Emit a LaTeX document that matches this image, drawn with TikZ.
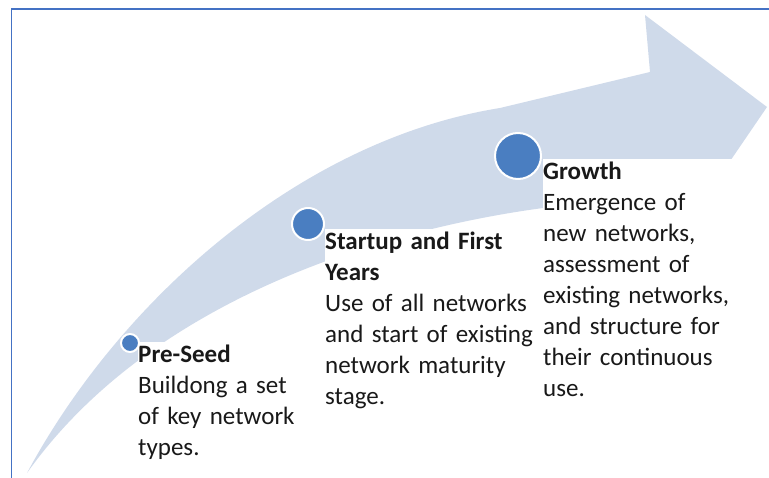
\documentclass[tikz,border=0pt]{standalone}
\usepackage{fontspec}
\setmainfont{Carlito}
\hyphenpenalty=10000
\definecolor{framecol}{RGB}{68,114,196}
\definecolor{arrowcol}{RGB}{207,218,234}
\definecolor{dotcol}{RGB}{74,126,193}
\definecolor{txtcol}{RGB}{25,25,25}
\begin{document}
\begin{tikzpicture}[x=1pt, y=-1pt,
  dot/.style={circle, fill=dotcol, draw=white, line width=2pt, inner sep=0pt},
  stage/.style={anchor=base west, align=left, fill=white, inner xsep=0pt, inner ysep=3pt,
    text=txtcol, font=\fontsize{25}{31}\selectfont}]
\useasboundingbox (0,0) rectangle (769,478);
% curved arrow
\fill[arrowcol] (27,473) .. controls (120,300) and (300,140) .. (500,108)
  -- (650,72) -- (645,15) -- (767,107) -- (666,255) -- (661,193)
  -- (543,208) .. controls (380,230) and (150,300) .. (27,473) -- cycle;
% frame
\draw[framecol, line width=1.5pt] (11.5,478) -- (11.5,9) -- (769,9);
% stages
\node[stage, text width=165pt] (pre) at (138,363) {\textbf{Pre-Seed}\\Buildong a set\\of key network\\types.};
\node[stage, text width=215pt] (startup) at (325,250) {\textbf{Startup and First}\\\textbf{Years}\\Use of all networks\\and start of existing\\network maturity\\stage.};
\node[stage, text width=200pt] (growth) at (543,180) {\textbf{Growth}\\Emergence of\\new networks,\\assessment of\\existing networks,\\and structure for\\their continuous\\use.};
% dots
\node[dot, minimum size=18pt] (dotpre) at (130,343) {};
\node[dot, minimum size=32pt] (dotstartup) at (308,224) {};
\node[dot, minimum size=46pt] (dotgrowth) at (518,156) {};
\end{tikzpicture}
\end{document}
